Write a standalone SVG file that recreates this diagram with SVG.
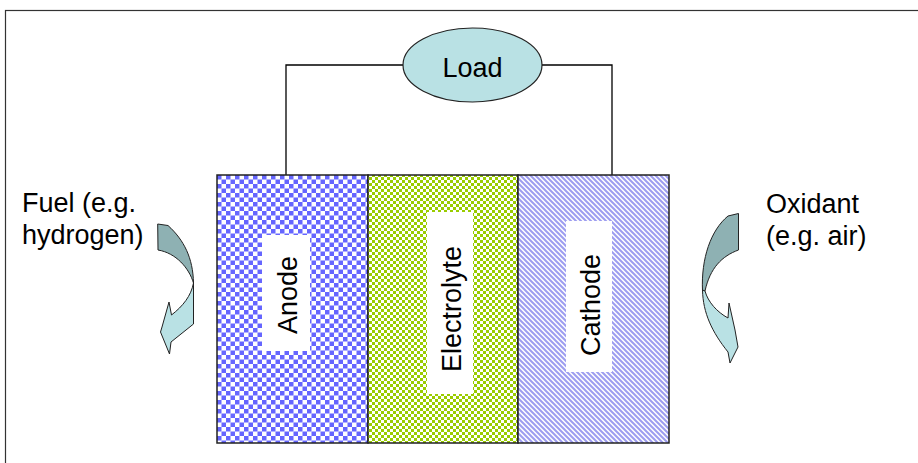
<svg xmlns="http://www.w3.org/2000/svg" width="918" height="463" viewBox="0 0 918 463">
<style>
.lbl{font-family:"Liberation Sans",Arial,sans-serif;font-size:27px;fill:#000}
.wire{fill:none;stroke:#000;stroke-width:1.3}
.cell{stroke:#222;stroke-width:1.5}
.dark{fill:#8eb1b3;stroke:#222;stroke-width:1}
.light{fill:#b9e1e4;stroke:#222;stroke-width:1}
</style>
<defs>
<pattern id="pAnode" width="9" height="9" patternUnits="userSpaceOnUse" x="217" y="175">
<rect width="9" height="9" fill="#fff"/>
<rect width="4.5" height="4.5" fill="#6666ff"/>
<rect x="4.5" y="4.5" width="4.5" height="4.5" fill="#6666ff"/>
</pattern>
<pattern id="pElec" width="6" height="6" patternUnits="userSpaceOnUse">
<rect width="6" height="6" fill="#fff"/>
<rect width="3" height="3" fill="#99cc00"/>
<rect x="3" y="3" width="3" height="3" fill="#99cc00"/>
</pattern>
<pattern id="pCath" width="5" height="5" patternUnits="userSpaceOnUse">
<rect width="5" height="5" fill="#fff"/>
<path d="M-1,-1 L6,6 M-1,4 L1,6 M4,-1 L6,1" stroke="#9c9cf0" stroke-width="2"/>
</pattern>
</defs>
<rect x="5.5" y="10.5" width="1000" height="1000" fill="#fff" stroke="#333" stroke-width="1.2"/>
<g id="connectors">
<polyline class="wire" points="286,175 286,65 403,65"/>
<polyline class="wire" points="542,65 612,65 612,175"/>
</g>
<g id="load">
<ellipse cx="472.5" cy="65" rx="69.5" ry="37" fill="#b9e1e4" stroke="#222" stroke-width="1.2"/>
<text class="lbl" x="472.5" y="77" text-anchor="middle">Load</text>
</g>
<g id="anode">
<rect class="cell" x="217" y="175" width="151" height="268" fill="url(#pAnode)"/>
<rect x="262" y="235" width="48" height="116" fill="#fff"/>
<text class="lbl" text-anchor="middle" transform="translate(297,295) rotate(-90)">Anode</text>
</g>
<g id="electrolyte">
<rect class="cell" x="368" y="175" width="150" height="268" fill="url(#pElec)"/>
<rect x="427" y="212" width="46" height="182" fill="#fff"/>
<text class="lbl" text-anchor="middle" transform="translate(461,309) rotate(-90)">Electrolyte</text>
</g>
<g id="cathode">
<rect class="cell" x="518" y="175" width="151" height="268" fill="url(#pCath)"/>
<rect x="566" y="221" width="46" height="151" fill="#fff"/>
<text class="lbl" text-anchor="middle" transform="translate(600,305) rotate(-90)">Cathode</text>
</g>
<g id="fuel">
<text class="lbl" x="22" y="212">Fuel (e.g.</text>
<text class="lbl" x="22" y="244">hydrogen)</text>
<path class="dark" d="M157.7,224 L168,225.5 C184,240 193,258 193.5,283 C189,268 176,253 158,250 Z"/>
<path class="light" d="M193.5,283 L193.5,324 L171,342 L169.5,354 L160.5,332 L162,327 L169,302 L171.5,315 C183,306 191,296 193.5,283 Z"/>
</g>
<g id="oxidant">
<text class="lbl" x="766" y="213">Oxidant</text>
<text class="lbl" x="766" y="245">(e.g. air)</text>
<path class="dark" d="M728,216 L738.5,213.5 L738.5,250 C722,256 710,268 705,291 L702.5,291 C701,258 711,230 728,216 Z"/>
<path class="light" d="M702.5,290 L705,291 C708,302 717,312 728,318 L729,303 L735,330 L738,347 L730,363 L728,352 C712,332 703,313 702.5,290 Z"/>
</g>
</svg>
